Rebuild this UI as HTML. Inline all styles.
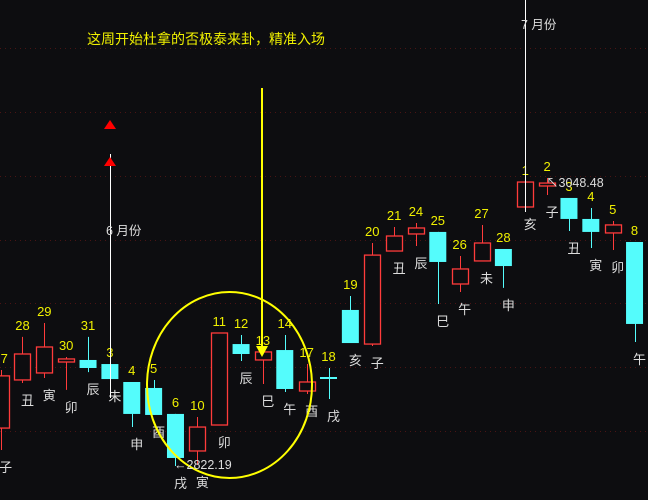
<!DOCTYPE html>
<html><head><meta charset="utf-8">
<style>
html,body{margin:0;padding:0;background:#0d0d10;}
svg{display:block;}
text{font-family:"Liberation Sans","Noto Sans CJK SC",sans-serif;}
</style></head>
<body>
<svg id="chart" width="648" height="500" viewBox="0 0 648 500" xmlns="http://www.w3.org/2000/svg">
<rect width="648" height="500" fill="#0d0d10"/>
<g id="grid"></g>
<g id="candles"></g>
<g id="labels"></g>
<text x="87" y="44" fill="#f0f000" font-size="14">这周开始杜拿的否极泰来卦，精准入场</text>
<line x1="262" y1="88" x2="262" y2="350" stroke="#ffff00" stroke-width="2"/>
<polygon points="256,346 268,346 262,357" fill="#ffff00"/>
<ellipse cx="229.5" cy="385" rx="82.5" ry="93" fill="none" stroke="#ffff00" stroke-width="2"/>
<line x1="110.5" y1="154" x2="110.5" y2="398" stroke="#ffffff" stroke-width="1"/>
<polygon points="104,129 116,129 110,120" fill="#ff0000"/>
<polygon points="104,166 116,166 110,157" fill="#ff0000"/>
<text x="106" y="235" fill="#dddddd" font-size="12.5">6 月份</text>
<line x1="525.5" y1="0" x2="525.5" y2="212" stroke="#ffffff" stroke-width="1"/>
<text x="521" y="29" fill="#dddddd" font-size="12.5">7 月份</text>
<text x="174" y="469" fill="#dddddd" font-size="12.5">←2822.19</text>
<text x="546" y="187" fill="#dddddd" font-size="12.5">↖3048.48</text>
</svg>
<script>
const dayNums = [27,28,29,30,31,3,4,5,6,10,11,12,13,14,17,18,19,20,21,24,25,26,27,28,1,2,3,4,5,8];
const branches = ["子","丑","寅","卯","辰","未","申","酉","戌","寅","卯","辰","巳","午","酉","戌","亥","子","丑","辰","巳","午","未","申","亥","子","丑","寅","卯","午"];
const opens  = [2852.0,2889.8,2895.3,2903.9,2905.5,2902.3,2888.2,2883.5,2863.1,2834.0,2854.4,2918.0,2905.5,2913.3,2881.1,2891.3,2944.8,2918.0,2991.1,3004.5,3006.1,2965.2,2983.3,2992.7,3025.7,3042.2,3032.8,3016.3,3005.3,2998.2];
const closes = [2893.0,2910.2,2915.7,2906.3,2899.2,2890.5,2863.1,2862.3,2828.5,2852.8,2926.7,2910.2,2911.8,2882.7,2888.2,2891.0,2918.8,2987.9,3002.9,3009.2,2982.5,2977.0,2997.4,2979.3,3045.3,3044.5,3016.3,3006.1,3011.6,2933.8];
const highs  = [2897.6,2923.6,2934.5,2907.8,2923.6,2902.3,2888.2,2889.8,2863.1,2860.7,2926.7,2925.1,2911.8,2925.1,2902.3,2899.2,2955.8,2997.4,3010.0,3013.1,3006.1,2987.2,3011.5,2992.7,3045.3,3048.5,3032.8,3024.9,3014.7,2998.2];
const lows   = [2834.8,2887.4,2891.3,2882.0,2896.0,2890.5,2852.8,2862.3,2822.2,2823.0,2854.4,2904.7,2886.6,2880.3,2878.8,2874.8,2918.8,2916.5,2991.1,2995.0,2949.5,2958.9,2983.3,2962.1,3025.7,3035.1,3006.8,2993.5,2991.9,2919.6];
const gridPrices = [3150.6,3100.3,3050.0,2999.7,2950.2,2899.9,2849.6];

const NS="http://www.w3.org/2000/svg";
const yScale = p => (3188.33 - p)/0.7857;
const xScale = i => 0.6 + 21.86*i;
function mk(tag, attrs, parent){const e=document.createElementNS(NS,tag);for(const k in attrs)e.setAttribute(k,attrs[k]);parent.appendChild(e);return e;}
const grid=document.getElementById('grid'), cg=document.getElementById('candles'), lg=document.getElementById('labels');
gridPrices.forEach(p=>{
  const y=Math.round(yScale(p))+0.5;
  const l=mk('line',{x1:0,x2:648,y1:y,y2:y,stroke:'#4a1414','stroke-dasharray':'1,4'},grid);
  
  
});
const RED='#ff3b3b', CYAN='#54fcfc';
dayNums.forEach((d,i)=>{
  const x=xScale(i), o=opens[i], c=closes[i];
  const up=c>=o, col=up?RED:CYAN;
  const g=mk('g',{},cg);
  
  
  const yt=yScale(Math.max(o,c)), yb=yScale(Math.min(o,c));
  const cx=Math.round(x)+0.5;
  mk('line',{x1:cx,x2:cx,y1:yScale(highs[i]),y2:yScale(lows[i]),stroke:col,'stroke-width':1},g);
  if(up){
    mk('rect',{x:Math.round(x-8)+0.5,y:yt,width:16,height:Math.max(yb-yt,1),fill:'#0d0d10',stroke:col,'stroke-width':1.3},g);
  } else if (yb-yt<1.5){
    mk('line',{x1:x-8.5,x2:x+8.5,y1:yt,y2:yt,stroke:col,'stroke-width':2},g);
  } else {
    mk('rect',{x:x-8.5,y:yt,width:17,height:yb-yt,fill:col},g);
  }
  const t=mk('text',{x:x,y:yScale(highs[i])-7,fill:'#f0f000','font-size':13,'text-anchor':'middle'},lg);
  t.textContent=d;
  
  
  const b=mk('text',{x:x+5,y:yScale(lows[i])+22,fill:'#dddddd','font-size':13,'text-anchor':'middle'},lg);
  b.textContent=branches[i];
  
  
});
</script>
</body></html>
